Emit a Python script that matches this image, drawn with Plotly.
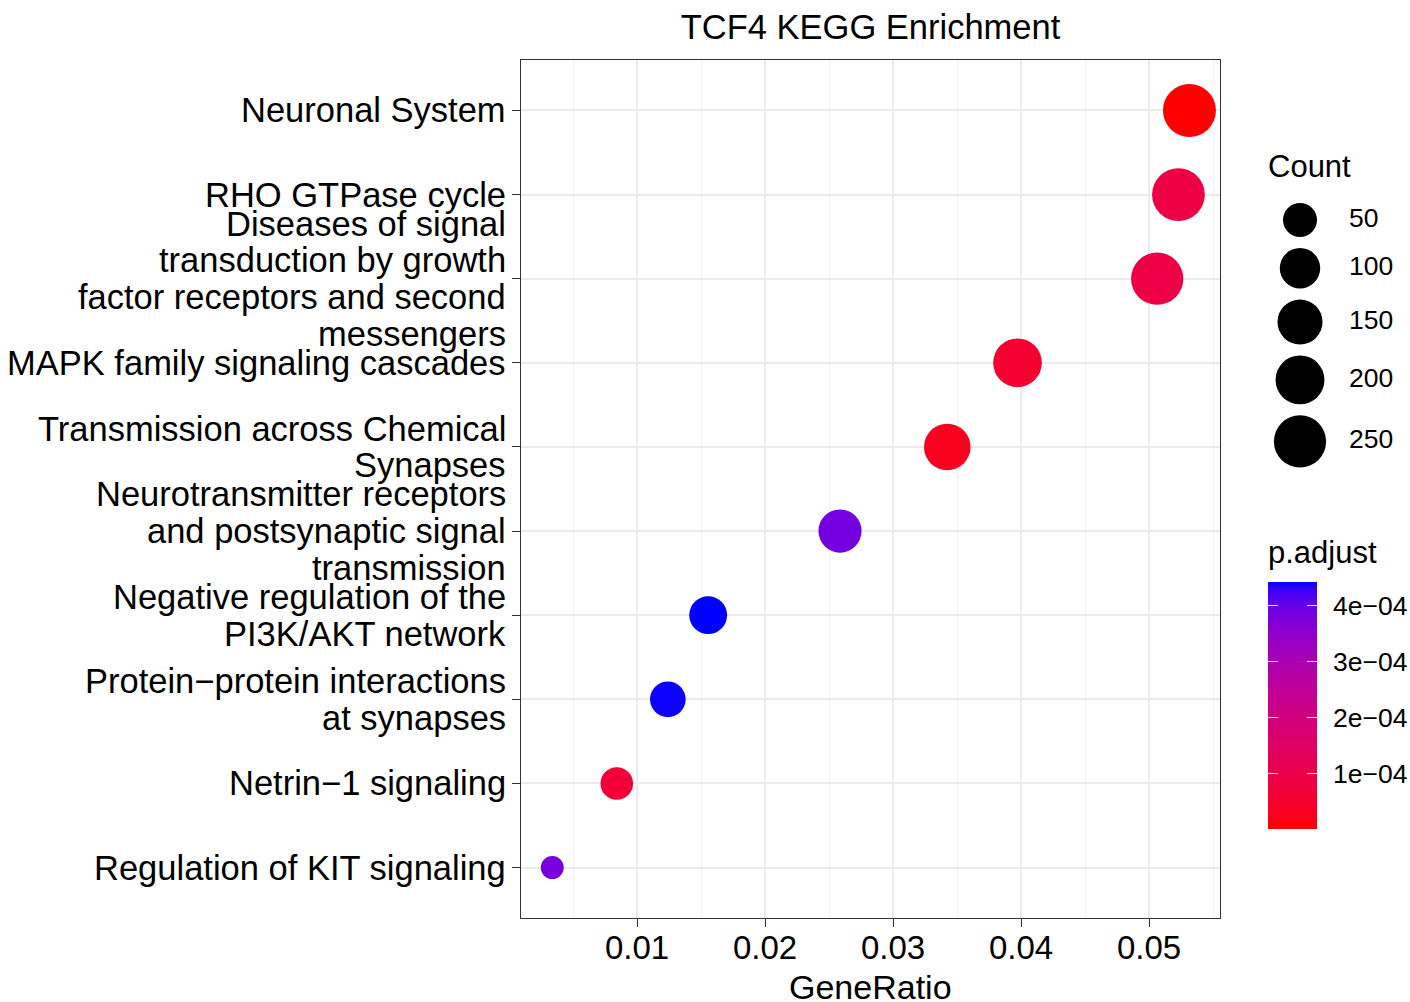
import numpy as np
import plotly.graph_objects as go

# ---------------- data ----------------
categories = [
    "Neuronal System",
    "RHO GTPase cycle",
    "Diseases of signal\ntransduction by growth\nfactor receptors and second\nmessengers",
    "MAPK family signaling cascades",
    "Transmission across Chemical\nSynapses",
    "Neurotransmitter receptors\nand postsynaptic signal\ntransmission",
    "Negative regulation of the\nPI3K/AKT network",
    "Protein\u2212protein interactions\nat synapses",
    "Netrin\u22121 signaling",
    "Regulation of KIT signaling",
]
gene_ratio = [0.05316, 0.05230, 0.05064, 0.03973, 0.03424, 0.02586, 0.01556, 0.01241, 0.00842, 0.00338]
counts = [263, 259, 251, 197, 169, 128, 77, 61, 42, 17]
p_adjust = [2e-7, 8.8e-5, 9.0e-5, 5.6e-5, 2.8e-5, 3.85e-4, 4.43e-4, 4.40e-4, 6.6e-5, 3.8e-4]

x_ticks = [0.01, 0.02, 0.03, 0.04, 0.05]
x_tick_labels = ["0.01", "0.02", "0.03", "0.04", "0.05"]
size_breaks = [50, 100, 150, 200, 250]
p_ticks = [1e-4, 2e-4, 3e-4, 4e-4]
p_tick_labels = ["1e\u221204", "2e\u221204", "3e\u221204", "4e\u221204"]

title_text = "TCF4 KEGG Enrichment"
x_title = "GeneRatio"
size_title = "Count"
color_title = "p.adjust"

# ---------------- styling helpers ----------------
FONT = "Liberation Sans, Arial, Helvetica, sans-serif"
W, H = 1410, 1002
ML = 521
PW = W - ML


def px_x(x):
    return (x - ML) / PW


def px_y(y):
    return (H - y) / H


# Lab interpolation red -> blue (like ggplot's gradient)
def srgb_to_lin(c):
    c = np.asarray(c, float)
    return np.where(c <= 0.04045, c / 12.92, ((c + 0.055) / 1.055) ** 2.4)


def lin_to_srgb(c):
    c = np.clip(c, 0, 1)
    return np.where(c <= 0.0031308, 12.92 * c, 1.055 * c ** (1 / 2.4) - 0.055)


M = np.array([[0.4124, 0.3576, 0.1805], [0.2126, 0.7152, 0.0722], [0.0193, 0.1192, 0.9505]])
Minv = np.linalg.inv(M)
WHITE = np.array([0.95047, 1.0, 1.08883])


def rgb_to_lab(rgb):
    xyz = M @ srgb_to_lin(rgb) / WHITE
    f = np.where(xyz > 0.008856, np.cbrt(xyz), 7.787 * xyz + 16 / 116)
    return np.array([116 * f[1] - 16, 500 * (f[0] - f[1]), 200 * (f[1] - f[2])])


def lab_to_rgb(lab):
    fy = (lab[0] + 16) / 116
    fx = fy + lab[1] / 500
    fz = fy - lab[2] / 200
    f = np.array([fx, fy, fz])
    xyz = np.where(f ** 3 > 0.008856, f ** 3, (f - 16 / 116) / 7.787) * WHITE
    return lin_to_srgb(Minv @ xyz)


lab_lo = rgb_to_lab([1, 0, 0])
lab_hi = rgb_to_lab([0, 0, 1])
colorscale = []
for t in np.linspace(0, 1, 41):
    r, g, b = lab_to_rgb(lab_lo + (lab_hi - lab_lo) * t)
    colorscale.append([float(t), f"rgb({int(round(r*255))},{int(round(g*255))},{int(round(b*255))})"])

pmin, pmax = min(p_adjust), max(p_adjust)
cmin, cmax = min(counts), max(counts)
DMIN, DMAX = 23, 53


def size_of(c):
    c = np.asarray(c, float)
    return DMIN + (DMAX - DMIN) * np.sqrt((c - cmin) / (cmax - cmin))


cat_labels = [c.replace("\n", " ") for c in categories]

fig = go.Figure()

# main dots
fig.add_trace(go.Scatter(
    x=gene_ratio, y=cat_labels, mode="markers",
    marker=dict(size=size_of(counts), color=p_adjust, colorscale=colorscale,
                cmin=pmin, cmax=pmax, showscale=False, line=dict(width=0), opacity=1),
    xaxis="x", yaxis="y", showlegend=False, hoverinfo="skip",
))

# size legend (keys laid out by their key heights)
key_d = size_of(size_breaks)
key_h = key_d + 11
key_y = [30.0]
for i in range(1, len(size_breaks)):
    key_y.append(key_y[-1] + (key_h[i - 1] + key_h[i]) / 2)
fig.add_trace(go.Scatter(
    x=[40] * len(size_breaks), y=key_y, mode="markers",
    marker=dict(size=key_d, color="#000000", line=dict(width=0), opacity=1),
    xaxis="x2", yaxis="y2", showlegend=False, hoverinfo="skip",
))
fig.add_trace(go.Scatter(
    x=[89] * len(size_breaks), y=key_y, mode="text", text=[str(s) for s in size_breaks],
    textposition="middle right", textfont=dict(family=FONT, size=26.5, color="black"),
    xaxis="x2", yaxis="y2", showlegend=False, hoverinfo="skip",
))

# colour bar as heatmap
grad = np.linspace(pmin, pmax, 300)
fig.add_trace(go.Heatmap(
    x=[0], y=grad, z=[[v] for v in grad], colorscale=colorscale, zmin=pmin, zmax=pmax,
    showscale=False, xaxis="x3", yaxis="y3", hoverinfo="skip",
))

axis_font = dict(family=FONT, size=33, color="black")
fig.update_layout(
    width=W, height=H,
    margin=dict(l=ML, r=0, t=0, b=0, autoexpand=False),
    paper_bgcolor="white", plot_bgcolor="white",
    font=dict(family=FONT, color="black"),
    title=dict(text=title_text, x=px_x(870.5), xanchor="center", xref="paper",
               y=1 - 27 / H, yref="container", yanchor="middle",
               font=dict(family=FONT, size=34.5, color="black")),
    xaxis=dict(
        domain=[0, px_x(1220)], anchor="y", automargin=False,
        range=[0.01 - (637 - 521) / 12800, 0.05 + (1220 - 1149) / 12800],
        tickvals=x_ticks, ticktext=x_tick_labels, tickfont=axis_font,
        ticks="outside", ticklen=8, tickwidth=1.4, tickcolor="#333333",
        ticklabelstandoff=-8,
        showgrid=True, gridcolor="#EBEBEB", gridwidth=1.6,
        minor=dict(dtick=0.005, tick0=0.005, showgrid=True, gridcolor="#F2F2F2", gridwidth=0.9),
        showline=True, linecolor="#333333", linewidth=1.3, mirror=True,
        zeroline=False,
    ),
    yaxis=dict(
        domain=[px_y(918), px_y(60)], anchor="x", automargin=False,
        type="category", categoryorder="array", categoryarray=cat_labels[::-1],
        range=[-0.6, len(cat_labels) - 0.4],
        showticklabels=False, ticks="outside", ticklen=8, tickwidth=1.4, tickcolor="#333333",
        showgrid=True, gridcolor="#EBEBEB", gridwidth=1.6,
        showline=True, linecolor="#333333", linewidth=1.3, mirror=True,
        zeroline=False,
    ),
    xaxis2=dict(domain=[px_x(1260), 1], range=[0, 150], anchor="y2", visible=False,
                fixedrange=True, automargin=False),
    yaxis2=dict(domain=[px_y(475), px_y(190)], range=[285, 0], anchor="x2", visible=False,
                fixedrange=True, automargin=False),
    xaxis3=dict(domain=[px_x(1268), px_x(1317)], range=[-0.5, 0.5], anchor="y3", visible=False,
                fixedrange=True, automargin=False),
    yaxis3=dict(domain=[px_y(829), px_y(582)], range=[pmin, pmax], anchor="x3", side="right",
                tickvals=p_ticks, ticktext=p_tick_labels, automargin=False,
                tickfont=dict(family=FONT, size=26.5, color="black"),
                ticks="inside", ticklen=10, tickwidth=1.3, tickcolor="rgba(255,255,255,0.85)",
                mirror="ticks", showline=False, showgrid=False, zeroline=False,
                ticklabelstandoff=15, fixedrange=True),
)

annotations = []
LINE = 36.7
for full, cat in zip(cat_labels, categories):
    lines = cat.split("\n")
    n = len(lines)
    for k, ln in enumerate(lines):
        annotations.append(dict(
            x=0, xref="paper", y=full, yref="y", text=ln, showarrow=False,
            xanchor="right", yanchor="middle", xshift=-13,
            yshift=((n - 1) / 2 - k) * LINE,
            font=dict(family=FONT, size=34.5, color="black"),
        ))
annotations.append(dict(x=px_x(870.5), xref="paper", y=px_y(987), yref="paper", text=x_title,
                        showarrow=False, xanchor="center", yanchor="middle",
                        font=dict(family=FONT, size=34, color="black")))
annotations.append(dict(x=px_x(1266), xref="paper", y=px_y(166), yref="paper", text=size_title,
                        showarrow=False, xanchor="left", yanchor="middle",
                        font=dict(family=FONT, size=31, color="black")))
annotations.append(dict(x=px_x(1266), xref="paper", y=px_y(552), yref="paper", text=color_title,
                        showarrow=False, xanchor="left", yanchor="middle",
                        font=dict(family=FONT, size=31, color="black")))
fig.update_layout(annotations=annotations)

fig.write_html(
    "out.html",
    config={"displayModeBar": False},
    post_script="document.body.style.margin='0';document.body.style.overflow='hidden';",
)
